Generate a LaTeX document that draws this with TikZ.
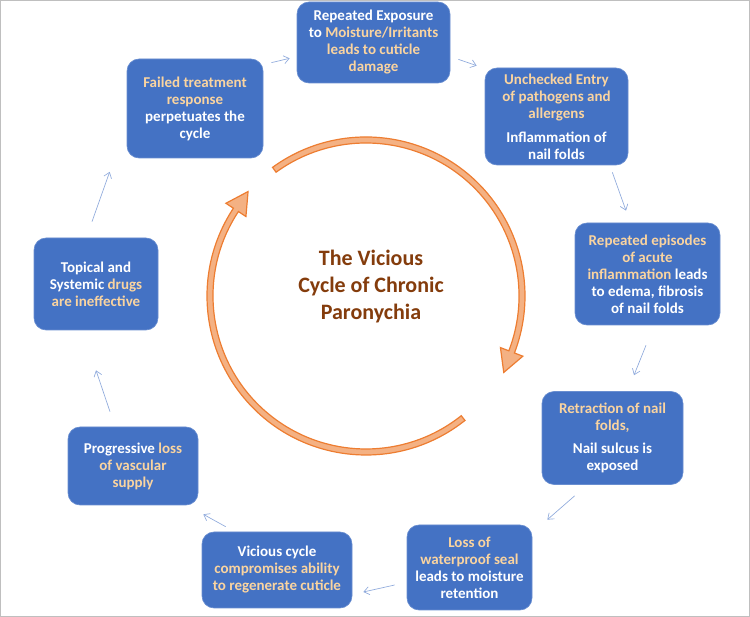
\documentclass[tikz,border=0pt]{standalone}
\usepackage{fontspec}
\setmainfont{Carlito}
\usetikzlibrary{arrows.meta}

\definecolor{stageblue}{RGB}{68,114,196}
\definecolor{stagewarm}{RGB}{250,212,160}
\definecolor{titlebrown}{RGB}{132,60,12}
\definecolor{arcedge}{RGB}{237,125,49}
\definecolor{arcfill}{RGB}{244,177,131}
\definecolor{flowblue}{RGB}{143,170,220}
\newcommand{\warm}[1]{\textcolor{stagewarm}{#1}}

\begin{document}
\begin{tikzpicture}[x=0.75pt, y=0.75pt,
    stage/.style={rectangle, rounded corners=9pt, fill=stageblue, draw=stageblue!80!white,
        line width=0.5pt, text=white, align=center, inner sep=0pt,
        font=\fontsize{11.25}{12.75}\selectfont\bfseries},
    boxsize/.style 2 args={minimum width=#1*0.75pt, minimum height=#2*0.75pt},
    flow/.style={draw=flowblue, line width=0.5pt, -{Straight Barb[length=4pt, width=6pt]}},
    cyclearrow/.style={fill=arcfill, draw=arcedge, line width=0.9pt, line join=miter}]
    \useasboundingbox (0,0) rectangle (750,617);
    \draw[black!25, line width=0.75pt] (0.5,0.5) rectangle (749.5,616.5);

    % the nine stages, clockwise from the top
    \node[stage, boxsize={153}{81}] (exposure) at (373.5,574.5)
        {Repeated Exposure\\ to \warm{Moisture/Irritants}\\ \warm{leads to cuticle}\\ \warm{damage}};
    \node[stage, boxsize={143}{97}] (entry) at (556.5,500.5)
        {\warm{Unchecked Entry}\\ \warm{of pathogens and}\\ \warm{allergens}\\[5pt] Inflammation of\\ nail folds};
    \node[stage, boxsize={145}{102}] (episodes) at (647.5,343)
        {\warm{Repeated episodes}\\ \warm{of acute}\\ \warm{inflammation} leads\\ to edema, fibrosis\\ of nail folds};
    \node[stage, boxsize={141}{93}] (retraction) at (612.5,179)
        {\warm{Retraction of nail}\\ \warm{folds,}\\[5pt] Nail sulcus is\\ exposed};
    \node[stage, boxsize={125}{85}] (seal) at (469.5,49.5)
        {\warm{Loss of}\\ \warm{waterproof seal}\\ leads to moisture\\ retention};
    \node[stage, boxsize={150}{76}] (regen) at (277,47)
        {Vicious cycle\\ \warm{compromises ability}\\ \warm{to regenerate cuticle}};
    \node[stage, boxsize={130}{78}] (vascular) at (133,151)
        {Progressive \warm{loss}\\ \warm{of vascular}\\ \warm{supply}};
    \node[stage, boxsize={124}{92}] (drugs) at (96,333)
        {Topical and\\ Systemic \warm{drugs}\\ \warm{are ineffective}};
    \node[stage, boxsize={136}{99}] (failed) at (195,508.5)
        {\warm{Failed treatment}\\ \warm{response}\\ perpetuates the\\ cycle};

    \node[font=\fontsize{16.5}{20.25}\selectfont\bfseries, text=titlebrown, align=center] (title) at (371,330)
        {The Vicious\\ Cycle of Chronic\\ Paronychia};

    % the two big arcs round the title
    \filldraw[cyclearrow, shift={(366,321)}, rotate=-21]
        (147:159) arc[start angle=147, end angle=0, radius=119.25pt]
        -- (168,0) -- (156,-22) -- (144,0) -- (153,0)
        arc[start angle=0, end angle=147, radius=114.75pt] -- cycle;
    \filldraw[cyclearrow, shift={(366,321)}, rotate=146.5]
        (162:159) arc[start angle=162, end angle=0, radius=119.25pt]
        -- (168,0) -- (156,-22) -- (144,0) -- (153,0)
        arc[start angle=0, end angle=162, radius=114.75pt] -- cycle;

    % small arrows between the stages
    \draw[flow] ([shift={(8,-4)}]failed.north east) -- ([shift={(-7,25)}]exposure.south west);
    \draw[flow] ([shift={(8,24)}]exposure.south east) -- ([shift={(-8,2)}]entry.north west);
    \draw[flow] ([shift={(-16,-7)}]entry.south east) -- ([shift={(-21.5,12)}]episodes.north);
    \draw[flow] ([shift={(-1.5,-20)}]episodes.south) -- ([shift={(21.5,16)}]retraction.north);
    \draw[flow] ([shift={(33,-11)}]retraction.south west) -- ([shift={(15,5)}]seal.north east);
    \draw[flow] ([shift={(-12,-17.5)}]seal.west) -- ([shift={(11,-22)}]regen.east);
    \draw[flow] ([shift={(24,5)}]regen.north west) -- ([shift={(5,-9)}]vascular.south east);
    \draw[flow] ([shift={(-23,15)}]vascular.north) -- ([shift={(0,-40)}]drugs.south);
    \draw[flow] ([shift={(-4,16)}]drugs.north) -- ([shift={(-17,-13.5)}]failed.south west);
\end{tikzpicture}
\end{document}
